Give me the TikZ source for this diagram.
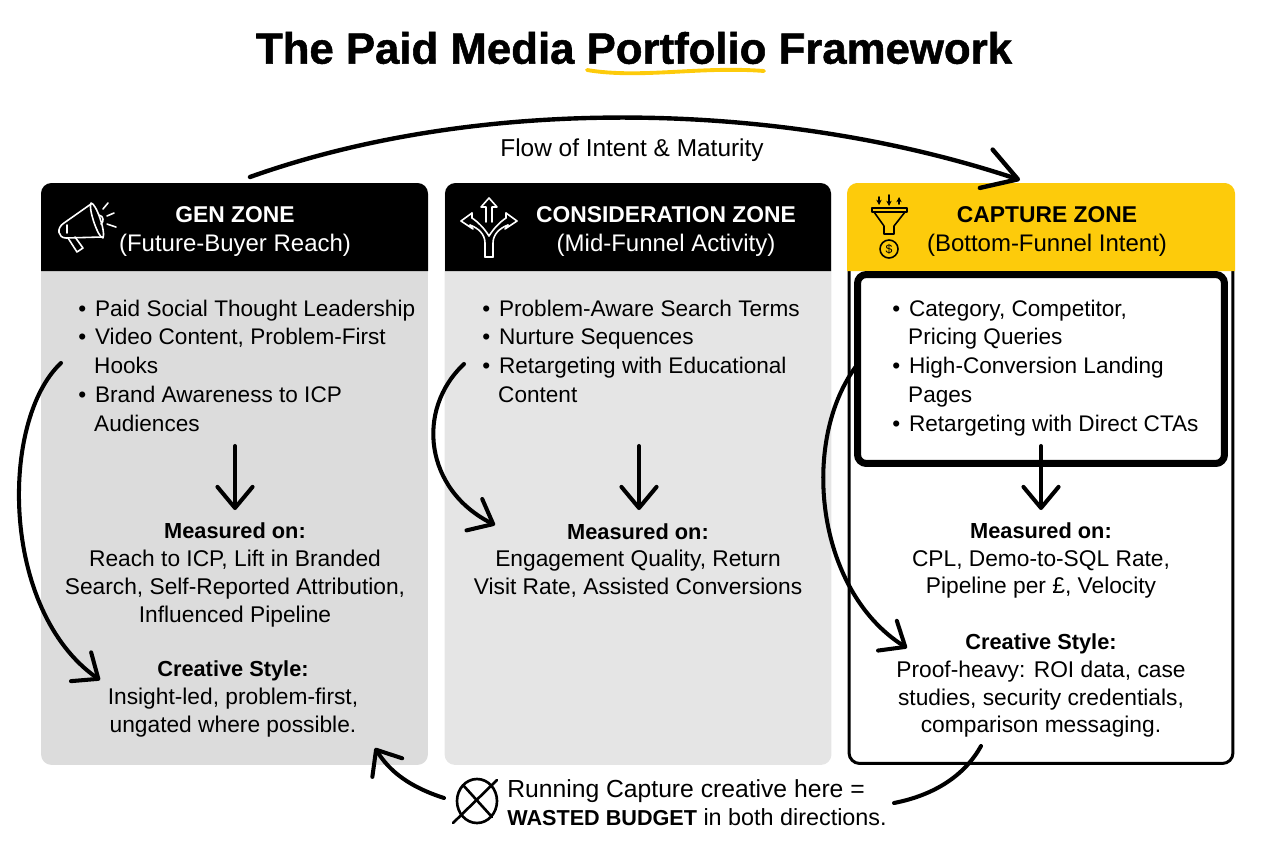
\documentclass[tikz,border=0pt]{standalone}
\usepackage{fontspec}
\setmainfont{Liberation Sans}
\newfontfamily\titlefont[BoldFeatures={FakeBold=1.2}]{Liberation Sans}
\usetikzlibrary{arrows.meta}
\definecolor{capyellow}{HTML}{FDCB0B}
\definecolor{gengray}{HTML}{DCDCDC}
\definecolor{consgray}{HTML}{E5E5E5}
\newenvironment{zonelist}{\begin{list}{\textbullet}{\setlength{\leftmargin}{9.6pt}\setlength{\labelsep}{5pt}\setlength{\labelwidth}{4pt}\setlength{\itemsep}{0pt}\setlength{\parsep}{0pt}\setlength{\topsep}{0pt}\setlength{\partopsep}{0pt}}\raggedright}{\end{list}}
\newcommand{\zonelabel}[1]{{\fontsize{12.4}{15.9}\selectfont\bfseries #1}}

\begin{document}
\begin{tikzpicture}[x=0.02cm, y=-0.02cm,
        every node/.style={align=center, inner sep=0pt, font=\fontsize{12.95}{15.9}\selectfont},
        panel/.style={minimum width=7.74cm, minimum height=11.64cm, rounded corners=6pt},
        headtext/.style={font=\fontsize{13.65}{16.5}\selectfont},
        zonetext/.style={anchor=north west, text width=6.9cm, align=flush left, font=\fontsize{12.85}{16.4}\selectfont},
        arrow/.style={line width=2.3pt, line cap=round, -{Straight Barb[length=12pt, width=20pt, line width=2.3pt, round]}},
        bigarrow/.style={line width=2.5pt, line cap=round, -{Straight Barb[length=19pt, width=23pt, line width=2.5pt, round]}},
        icon/.style={line width=0.9pt, line cap=round, line join=round}]

    \useasboundingbox (0,0) rectangle (1264,848);

    % title
    \node[font=\fontsize{24.9}{30}\selectfont\titlefont\bfseries] (title) at (634,48) {The Paid Media Portfolio Framework};
    \coordinate (swooshl) at (587,70);
    \coordinate (swooshr) at (764,71);
    \draw[capyellow, line width=2.2pt, line cap=round] (swooshl) .. controls (640,79) and (700,66) .. (swooshr);

    % 3 panels
    \node[panel, fill=gengray]  (genpanel)  at (234.5,474) {};
    \node[panel, fill=consgray] (conspanel) at (638,474)   {};
    \node[panel, fill=white, draw=black, line width=1.7pt, minimum width=7.68cm, minimum height=11.58cm] (cappanel) at (1041,474) {};

    % header bands
    \fill[black] (41,271) [rounded corners=6pt] -- (41,183) -- (428,183) [sharp corners] -- (428,271) -- cycle;
    \fill[black] (445,271) [rounded corners=6pt] -- (445,183) -- (831,183) [sharp corners] -- (831,271) -- cycle;
    \fill[capyellow] (847,271) [rounded corners=6pt] -- (847,183) -- (1235,183) [sharp corners] -- (1235,271) -- cycle;

    \node[headtext, text=white] (genhead)  at (235,231.5) {{\fontsize{13}{16.5}\selectfont\bfseries GEN ZONE}\\(Future-Buyer Reach)};
    \node[headtext, text=white] (conshead) at (666,231.5) {{\fontsize{13}{16.5}\selectfont\bfseries CONSIDERATION ZONE}\\(Mid-Funnel Activity)};
    \node[headtext]             (caphead)  at (1047,231.5) {{\fontsize{13}{16.5}\selectfont\bfseries CAPTURE ZONE}\\(Bottom-Funnel Intent)};

    % heavy box in capture zone
    \node[draw=black, line width=4pt, rounded corners=5pt, minimum width=7.34cm, minimum height=3.78cm] (capbox) at (1041,369) {};

    % bullets
    \node[zonetext] (genlist) at (77,287) {\begin{zonelist}
        \item Paid Social Thought Leadership
        \item Video Content, Problem-First\\Hooks
        \item Brand Awareness to ICP\\Audiences
        \end{zonelist}};
    \node[zonetext] (conslist) at (481,287) {\begin{zonelist}
        \item Problem-Aware Search Terms
        \item Nurture Sequences
        \item Retargeting with Educational\\Content
        \end{zonelist}};
    \node[zonetext] (caplist) at (891,287) {\begin{zonelist}
        \item Category, Competitor,\\Pricing Queries
        \item High-Conversion Landing\\Pages
        \item Retargeting with Direct CTAs
        \end{zonelist}};

    % measured on
    \node (genmeas)  at (235,575) {\zonelabel{Measured on:}\\Reach to ICP, Lift in Branded\\Search, Self-Reported Attribution,\\Influenced Pipeline};
    \node (consmeas) at (638,560.5) {\zonelabel{Measured on:}\\Engagement Quality, Return\\Visit Rate, Assisted Conversions};
    \node (capmeas)  at (1041,560.5) {\zonelabel{Measured on:}\\CPL, Demo-to-SQL Rate,\\Pipeline per £, Velocity};

    % creative style
    \node (genstyle) at (233,699) {\zonelabel{Creative Style:}\\Insight-led, problem-first,\\ungated where possible.};
    \node (capstyle) at (1041,685.5) {\zonelabel{Creative Style:}\\Proof-heavy: ROI data, case\\studies, security credentials,\\comparison messaging.};

    % flow on top
    \node[font=\fontsize{13.9}{16}\selectfont] (flowlbl) at (632,150) {Flow of Intent \& Maturity};
    \coordinate (flowfrom) at (250,177);
    \coordinate (flowto)   at (1020,180);
    \draw[bigarrow] (flowfrom) .. controls (480,95) and (780,100) .. (flowto);

    % arrows inside the panels
    \coordinate (gentop)  at (235,446);
    \coordinate (gentip)  at (235,510);
    \coordinate (constop) at (639,446);
    \coordinate (constip) at (639,510);
    \coordinate (captop)  at (1041,446);
    \coordinate (captip)  at (1041,510);
    \draw[arrow] (gentop)  -- (gentip);
    \draw[arrow] (constop) -- (constip);
    \draw[arrow] (captop)  -- (captip);

    % side arrows
    \coordinate (genside)  at (61,363);
    \coordinate (gensidet) at (100,680);
    \coordinate (consside)  at (464,364);
    \coordinate (conssidet) at (495,525);
    \coordinate (capside)  at (857,365);
    \coordinate (capsidet) at (907,648);
    \draw[arrow] (genside) .. controls (0,420) and (0,610) .. (gensidet);
    \draw[arrow] (consside) .. controls (415,410) and (425,490) .. (conssidet);
    \draw[arrow] (capside) .. controls (800,440) and (815,590) .. (capsidet);

    % note below
    \node[anchor=west, align=flush left] (wastenote) at (507,803) {{\fontsize{14.05}{15.9}\selectfont Running Capture creative here =}\\{\fontsize{12.3}{15.9}\selectfont\bfseries WASTED BUDGET}{\fontsize{13.3}{15.9}\selectfont{} in both directions.}};
    \draw[line width=1.5pt, line cap=round] (477,801) ellipse (20 and 22);
    \coordinate (crossa) at (453,823);
    \coordinate (crossb) at (497,780);
    \coordinate (crossc) at (463,785);
    \coordinate (crossd) at (492,817);
    \draw[line width=1.5pt, line cap=round] (crossa) -- (crossb);
    \draw[line width=1.5pt, line cap=round] (crossc) -- (crossd);
    \coordinate (wasteleft)  at (444,798);
    \coordinate (wastelefttip) at (375,748);
    \coordinate (wasteright) at (894,803);
    \coordinate (wasterightend) at (981,746);
    \draw[arrow] (wasteleft) .. controls (410,787) and (390,772) .. (wastelefttip);
    \draw[line width=2.3pt, line cap=round] (wasteright) .. controls (935,795) and (965,775) .. (wasterightend);

    % megaphone
    \draw[icon, white] (91,204) -- (64,223) .. controls (56,228) and (58,238) .. (66,238) -- (102,237);
    \draw[icon, white] (91,203) .. controls (96,203) and (106,232) .. (103,238) .. controls (98,238) and (88,208) .. (91,203);
    \draw[icon, white] (68,238) -- (77,252) -- (83,248) -- (75,237);
    \draw[icon, white] (67,225) -- (67,233);
    \draw[icon, white] (99,215) .. controls (104,216) and (104,222) .. (101,224);
    \draw[icon, white] (108,203) -- (103,209);
    \draw[icon, white] (114,213) -- (107,216);
    \draw[icon, white] (116,227) -- (107,224);

    % forked arrows
    \draw[icon, white] (485,257) -- (485,243) .. controls (485,234) and (478,228) .. (470,225);
    \draw[icon, white] (493,257) -- (493,243) .. controls (493,234) and (500,228) .. (508,225);
    \draw[icon, white] (485,257) -- (493,257);
    \draw[icon, white] (489,236) .. controls (484,228) and (478,222) .. (472,218);
    \draw[icon, white] (489,236) .. controls (494,228) and (500,222) .. (506,218);
    \draw[icon, white] (486,222) -- (486,207) -- (481,207) -- (489,198) -- (497,207) -- (492,207) -- (492,222);
    \draw[icon, white] (472,213) -- (461,221) -- (473,229) -- (470,225);
    \draw[icon, white] (472,213) -- (472,218);
    \draw[icon, white] (506,213) -- (517,221) -- (505,229) -- (508,225);
    \draw[icon, white] (506,213) -- (506,218);

    % funnel with coin
    \draw[icon, black] (872,208) -- (907,208) -- (907,212) -- (872,212) -- cycle;
    \draw[icon, black] (874,212) -- (884,226) -- (884,234) -- (894,234) -- (894,226) -- (905,212);
    \draw[icon, black] (889,249) circle (9);
    \node[font=\fontsize{7}{8}\selectfont] (coin) at (889,249) {\$};
    \draw[icon, black, -{Stealth[length=3pt, width=3pt]}] (879,197) -- (879,205);
    \draw[icon, black, -{Stealth[length=3pt, width=3pt]}] (889,195) -- (889,206);
    \draw[icon, black, -{Stealth[length=3pt, width=3pt]}] (899,204) -- (899,197);
\end{tikzpicture}
\end{document}
